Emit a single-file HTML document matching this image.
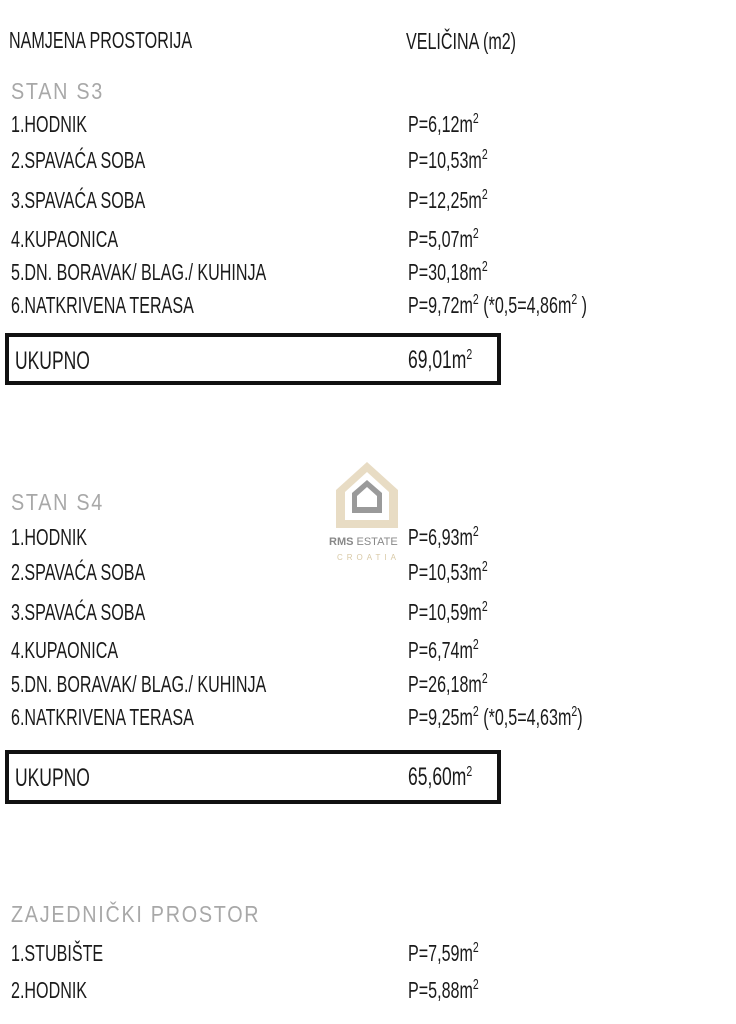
<!DOCTYPE html>
<html><head><meta charset="utf-8"><style>
body{margin:0;width:736px;height:1024px;background:#fff;position:relative;overflow:hidden;font-family:"Liberation Sans",sans-serif;color:#1a1a1a}
.t{position:absolute;font-size:23px;line-height:24px;white-space:nowrap;transform:scaleX(0.70);transform-origin:0 50%}
.h{position:absolute;font-size:23px;line-height:24px;color:#a8a8a8;letter-spacing:2px;white-space:nowrap;transform:scaleX(0.86);transform-origin:0 50%}
sup{font-size:15px;vertical-align:9px;line-height:0}
.box{position:absolute;left:5px;width:488px;border:4px solid #111}
</style></head><body>
<div class="t" style="left:9px;top:28px">NAMJENA PROSTORIJA</div>
<div class="t" style="left:406px;top:29px">VELIČINA (m2)</div>

<div class="h" style="left:11px;top:79px">STAN S3</div>
<div class="t" style="left:11px;top:112px">1.HODNIK</div><div class="t" style="left:408px;top:112px">P=6,12m<sup>2</sup></div>
<div class="t" style="left:11px;top:148px">2.SPAVAĆA SOBA</div><div class="t" style="left:408px;top:148px">P=10,53m<sup>2</sup></div>
<div class="t" style="left:11px;top:188px">3.SPAVAĆA SOBA</div><div class="t" style="left:408px;top:188px">P=12,25m<sup>2</sup></div>
<div class="t" style="left:11px;top:227px">4.KUPAONICA</div><div class="t" style="left:408px;top:227px">P=5,07m<sup>2</sup></div>
<div class="t" style="left:11px;top:260px">5.DN. BORAVAK/ BLAG./ KUHINJA</div><div class="t" style="left:408px;top:260px">P=30,18m<sup>2</sup></div>
<div class="t" style="left:11px;top:293px">6.NATKRIVENA TERASA</div><div class="t" style="left:408px;top:293px">P=9,72m<sup>2</sup> (*0,5=4,86m<sup>2</sup> )</div>
<div class="box" style="top:333px;height:44px"></div>
<div class="t" style="left:15px;top:349px;font-size:25px">UKUPNO</div><div class="t" style="left:408px;top:348px;font-size:25px">69,01m<sup>2</sup></div>

<div style="position:absolute;left:334px;top:460px;width:66px;height:70px">
<svg width="66" height="70" viewBox="0 0 66 70"><path d="M33 2 L64 30 L64 68 L2 68 L2 30 Z" fill="#e8dcc4"/><path d="M33 12 L55 32 L55 60 L11 60 L11 32 Z" fill="#fff"/><path d="M33 20 L48 33 L48 53 L18 53 L18 33 Z" fill="#9a9a9a"/><path d="M33 27 L43 36 L43 47 L23 47 L23 36 Z" fill="#fff"/></svg></div>
<div style="position:absolute;left:329px;top:536px;font-size:11px;color:#888;white-space:nowrap"><b>RMS</b> ESTATE</div>
<div style="position:absolute;left:337px;top:553px;font-size:8px;color:#d8c9a6;letter-spacing:4px">CROATIA</div>

<div class="h" style="left:11px;top:490px">STAN S4</div>
<div class="t" style="left:11px;top:525px">1.HODNIK</div><div class="t" style="left:408px;top:525px">P=6,93m<sup>2</sup></div>
<div class="t" style="left:11px;top:560px">2.SPAVAĆA SOBA</div><div class="t" style="left:408px;top:560px">P=10,53m<sup>2</sup></div>
<div class="t" style="left:11px;top:600px">3.SPAVAĆA SOBA</div><div class="t" style="left:408px;top:600px">P=10,59m<sup>2</sup></div>
<div class="t" style="left:11px;top:638px">4.KUPAONICA</div><div class="t" style="left:408px;top:638px">P=6,74m<sup>2</sup></div>
<div class="t" style="left:11px;top:672px">5.DN. BORAVAK/ BLAG./ KUHINJA</div><div class="t" style="left:408px;top:672px">P=26,18m<sup>2</sup></div>
<div class="t" style="left:11px;top:705px">6.NATKRIVENA TERASA</div><div class="t" style="left:408px;top:705px">P=9,25m<sup>2</sup> (*0,5=4,63m<sup>2</sup>)</div>
<div class="box" style="top:750px;height:46px"></div>
<div class="t" style="left:15px;top:766px;font-size:25px">UKUPNO</div><div class="t" style="left:408px;top:765px;font-size:25px">65,60m<sup>2</sup></div>

<div class="h" style="left:11px;top:902px">ZAJEDNIČKI PROSTOR</div>
<div class="t" style="left:11px;top:941px">1.STUBIŠTE</div><div class="t" style="left:408px;top:941px">P=7,59m<sup>2</sup></div>
<div class="t" style="left:11px;top:978px">2.HODNIK</div><div class="t" style="left:408px;top:978px">P=5,88m<sup>2</sup></div>
</body></html>
